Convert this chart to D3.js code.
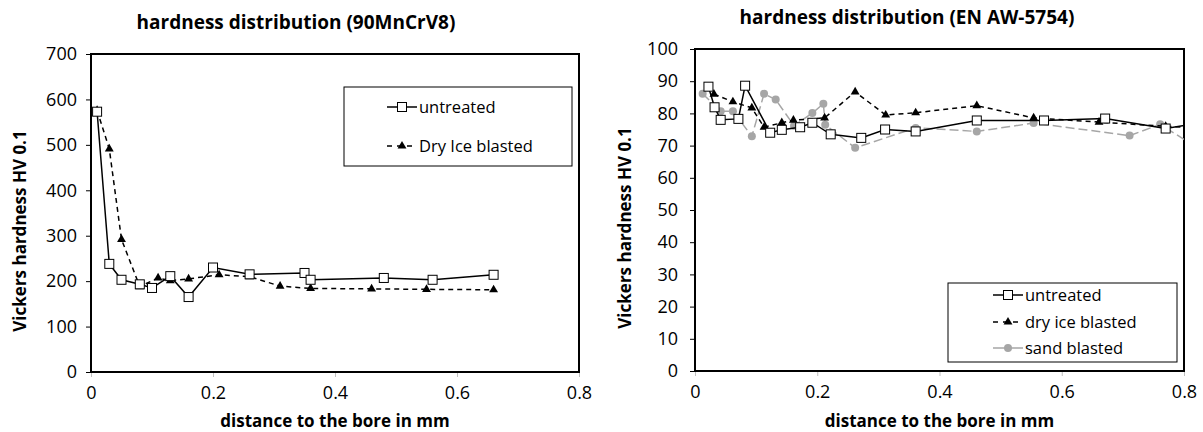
<!DOCTYPE html>
<html>
<head>
<meta charset="utf-8">
<script src="https://cdn.jsdelivr.net/npm/d3@7"></script>
<style>
  body { margin: 0; background: #fff; }
  text { font-family: 'Open Sans', 'DejaVu Sans', sans-serif; fill: #000; }
</style>
</head>
<body>
<svg id="chart" width="1203" height="432"></svg>
<script>
// left panel: 90MnCrV8
var steelUntreatedX = [0.01, 0.03, 0.05, 0.08, 0.10, 0.13, 0.16, 0.20, 0.26, 0.35, 0.36, 0.48, 0.56, 0.66];
var steelUntreatedY = [573, 238, 203, 193, 185, 211, 165, 230, 215, 218, 203, 207, 203, 214];
var steelDryIceX = [0.01, 0.03, 0.05, 0.08, 0.11, 0.13, 0.16, 0.21, 0.26, 0.31, 0.36, 0.46, 0.55, 0.66];
var steelDryIceY = [576, 491, 292, 188, 207, 201, 205, 214, 210, 189, 184, 183, 182, 181];
var steelTicksY = [0, 100, 200, 300, 400, 500, 600, 700];

// right panel: EN AW-5754
var aluUntreatedX = [0.022, 0.032, 0.042, 0.071, 0.082, 0.123, 0.142, 0.172, 0.192, 0.222, 0.272, 0.311, 0.361, 0.461, 0.571, 0.671, 0.770, 0.87];
var aluUntreatedY = [88.3, 81.9, 78.0, 78.3, 88.6, 74.0, 74.9, 75.7, 77.1, 73.5, 72.4, 75.0, 74.4, 77.8, 77.8, 78.4, 75.3, 78.5];
var aluDryIceX = [0.031, 0.062, 0.093, 0.113, 0.142, 0.161, 0.212, 0.262, 0.312, 0.361, 0.461, 0.554, 0.661, 0.770, 0.87];
var aluDryIceY = [86.0, 83.6, 81.7, 75.7, 77.1, 77.9, 78.6, 86.7, 79.5, 80.2, 82.4, 78.6, 77.3, 76.0, 75.0];
var aluSandX = [0.0125, 0.042, 0.062, 0.093, 0.113, 0.132, 0.162, 0.192, 0.210, 0.213, 0.262, 0.361, 0.461, 0.554, 0.711, 0.761, 0.85];
var aluSandY = [86.1, 80.7, 80.7, 72.9, 86.1, 84.3, 76.2, 80.1, 83.0, 76.5, 69.3, 75.5, 74.4, 77.0, 73.1, 76.6, 66];
var aluTicksY = [0, 10, 20, 30, 40, 50, 60, 70, 80, 90, 100];

var ticksX = [0, 0.2, 0.4, 0.6, 0.8];

var styles = {
  untreated: {stroke: '#000', dash: null, marker: 'square', fill: '#fff'},
  dryice: {stroke: '#000', dash: '5,4', marker: 'triangle', fill: '#000'},
  sand: {stroke: '#a6a6a6', dash: '9,4', marker: 'circle', fill: '#a6a6a6'}
};

function zip(xs, ys) {
  return xs.map(function(x, i) { return {x: x, y: ys[i]}; });
}

function drawMarker(g, kind, st) {
  if (kind === 'square') {
    g.append('rect').attr('x', -4.5).attr('y', -4.5).attr('width', 9).attr('height', 9)
      .style('fill', st.fill).style('stroke', '#000').style('stroke-width', 1);
  } else if (kind === 'triangle') {
    g.append('path').attr('d', d3.symbol().type(d3.symbolTriangle).size(34))
      .style('fill', st.fill);
  } else {
    g.append('circle').attr('r', 4).style('fill', st.fill);
  }
}

function panel(svg, o) {
  var x = d3.scaleLinear().domain([0, 0.8]).range([o.left, o.right]);
  var y = d3.scaleLinear().domain(o.yDomain).range([o.bottom, o.top]);
  var root = svg.append('g');

  root.append('clipPath').attr('id', o.id + '-clip')
    .append('rect')
      .attr('x', o.left).attr('y', o.top)
      .attr('width', o.right - o.left).attr('height', o.bottom - o.top);

  // axes
  var yAxis = root.append('g')
    .attr('transform', 'translate(' + o.left + ',0)')
    .call(d3.axisLeft(y).tickValues(o.ticksY).tickSize(5).tickPadding(o.yPad).tickFormat(d3.format('d')));
  yAxis.select('.domain').remove();
  yAxis.selectAll('text').style('font-size', '18px');

  var xAxis = root.append('g')
    .attr('transform', 'translate(0,' + o.bottom + ')')
    .call(d3.axisBottom(x).tickValues(ticksX).tickSize(5).tickPadding(9).tickFormat(function(d) { return d === 0 ? '0' : d3.format('.1f')(d); }));
  xAxis.select('.domain').remove();
  xAxis.selectAll('line').style('stroke', '#bfbfbf');
  xAxis.selectAll('text').style('font-size', '18px');

  // plot frame
  root.append('rect')
    .attr('x', o.left).attr('y', o.top)
    .attr('width', o.right - o.left).attr('height', o.bottom - o.top)
    .style('fill', 'none').style('stroke', '#000').style('stroke-width', 2);

  var line = d3.line()
    .x(function(d) { return x(d.x); })
    .y(function(d) { return y(d.y); });

  var plot = root.append('g').attr('clip-path', 'url(#' + o.id + '-clip)');
  o.series.slice().reverse().forEach(function(s) {
    var st = styles[s.key];
    plot.append('path')
      .datum(s.data)
      .attr('d', line)
      .style('fill', 'none')
      .style('stroke', st.stroke)
      .style('stroke-width', 1.5)
      .style('stroke-dasharray', st.dash);
    plot.selectAll(null)
      .data(s.data)
      .enter().append('g')
        .attr('transform', function(d) { return 'translate(' + x(d.x) + ',' + y(d.y) + ')'; })
        .each(function() { drawMarker(d3.select(this), st.marker, st); });
  });

  // titles
  root.append('text')
    .attr('x', o.titleX).attr('y', o.titleY)
    .attr('text-anchor', 'middle')
    .attr('dy', '0.35em')
    .style('font-size', '19px').style('font-weight', 'bold')
    .text(o.title);
  root.append('text')
    .attr('x', (o.left + o.right) / 2).attr('y', 421)
    .attr('text-anchor', 'middle')
    .attr('dy', '0.35em')
    .style('font-size', '17px').style('font-weight', 'bold')
    .text('distance to the bore in mm');
  root.append('text')
    .attr('transform', 'translate(' + o.yTitleX + ',' + o.yTitleY + ') rotate(-90)')
    .attr('text-anchor', 'middle')
    .attr('dy', '0.35em')
    .style('font-size', '17px').style('font-weight', 'bold')
    .text('Vickers hardness HV 0.1');

  // legend
  var lg = o.legend;
  root.append('rect')
    .attr('x', lg.x).attr('y', lg.y).attr('width', lg.w).attr('height', lg.h)
    .style('fill', '#fff').style('stroke', '#000').style('stroke-width', 1);
  o.series.forEach(function(s, i) {
    var st = styles[s.key];
    var ry = lg.rowY[i];
    root.append('line')
      .attr('x1', lg.symX).attr('x2', lg.symX + 30).attr('y1', ry).attr('y2', ry)
      .style('stroke', st.stroke).style('stroke-width', 1.5)
      .style('stroke-dasharray', s.key === 'dryice' ? '5,5' : null);
    drawMarker(root.append('g').attr('transform', 'translate(' + (lg.symX + 15) + ',' + ry + ')'), st.marker, st);
    root.append('text')
      .attr('x', lg.symX + 32).attr('y', ry)
      .attr('dy', '0.35em')
      .style('font-size', '16.5px')
      .text(s.label);
  });
}

var svg = d3.select('#chart');

panel(svg, {
  id: 'steel',
  left: 91, right: 579, top: 54, bottom: 372,
  yDomain: [0, 700], ticksY: steelTicksY, yPad: 9,
  title: 'hardness distribution (90MnCrV8)', titleX: 296, titleY: 22,
  yTitleX: 20, yTitleY: 231,
  series: [
    {key: 'untreated', label: 'untreated', data: zip(steelUntreatedX, steelUntreatedY)},
    {key: 'dryice', label: 'Dry Ice blasted', data: zip(steelDryIceX, steelDryIceY)}
  ],
  legend: {x: 344, y: 87, w: 228, h: 79, symX: 387, rowY: [107, 146]}
});

panel(svg, {
  id: 'alu',
  left: 695, right: 1184, top: 49, bottom: 371,
  yDomain: [0, 100], ticksY: aluTicksY, yPad: 12,
  title: 'hardness distribution (EN AW-5754)', titleX: 907, titleY: 17,
  yTitleX: 625, yTitleY: 228,
  series: [
    {key: 'untreated', label: 'untreated', data: zip(aluUntreatedX, aluUntreatedY)},
    {key: 'dryice', label: 'dry ice blasted', data: zip(aluDryIceX, aluDryIceY)},
    {key: 'sand', label: 'sand blasted', data: zip(aluSandX, aluSandY)}
  ],
  legend: {x: 948, y: 283, w: 229, h: 79, symX: 993, rowY: [295, 322, 348]}
});
</script>
</body>
</html>
